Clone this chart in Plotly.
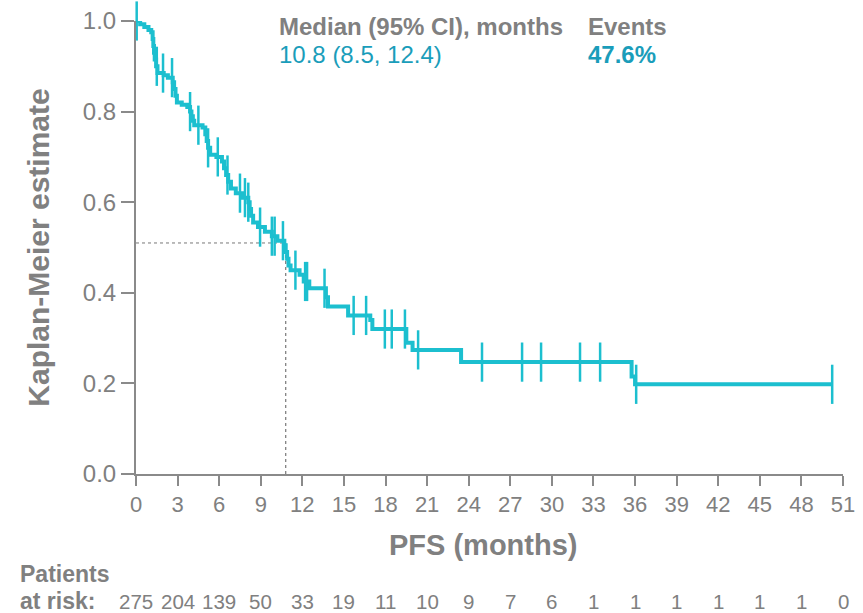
import numpy as np
import plotly.graph_objects as go

# ---- data ----
step_times = [0, 0.3, 0.6, 0.9, 1.1, 1.2, 1.25, 1.3, 1.35, 1.45, 1.55, 2.0, 2.3, 2.65, 2.75, 2.85, 2.95,
              3.3, 3.7, 3.9, 4.0, 4.1, 4.2, 4.8, 5.0, 5.1, 5.2, 5.35, 5.8, 6.2, 6.35, 6.5, 6.65, 6.85,
              7.2, 7.7, 8.1, 8.2, 8.3, 8.45, 8.8, 9.3, 9.8, 10.2, 10.7, 10.8, 10.9, 11.0, 11.15, 11.8,
              12.1, 12.5, 13.7, 13.85, 15.3, 16.9, 17.05, 19.5, 19.95, 23.45, 35.75, 36.0, 50.22]
step_surv = [1.0, 0.993, 0.987, 0.98, 0.975, 0.96, 0.945, 0.93, 0.915, 0.90, 0.885, 0.88, 0.875, 0.865,
             0.85, 0.835, 0.82, 0.815, 0.81, 0.80, 0.79, 0.78, 0.77, 0.765, 0.75, 0.735, 0.72, 0.705,
             0.70, 0.69, 0.675, 0.66, 0.645, 0.63, 0.62, 0.61, 0.60, 0.585, 0.57, 0.555, 0.545, 0.535,
             0.525, 0.515, 0.505, 0.49, 0.475, 0.46, 0.45, 0.44, 0.425, 0.41, 0.39, 0.37, 0.35, 0.34,
             0.32, 0.29, 0.274, 0.247, 0.215, 0.198, 0.198]
censor_times = [0.05, 1.5, 1.95, 2.6, 3.9, 4.5, 5.2, 5.9, 6.6, 7.5, 7.86, 8.1, 8.95, 9.8, 10.0, 10.6,
                11.5, 12.2, 12.34, 13.6, 15.7, 16.6, 17.95, 18.45, 19.4, 20.35, 24.96, 27.85, 29.22,
                32.03, 33.48, 36.08, 50.22]
median_time = 10.8
median_surv = 0.51
x_ticks = list(range(0, 52, 3))
at_risk = [275, 204, 139, 50, 33, 19, 11, 10, 9, 7, 6, 1, 1, 1, 1, 1, 1, 0]
median_text = "10.8 (8.5, 12.4)"
events_text = "47.6%"

# ---- styling ----
TEAL = "#1CBFCF"
TEAL_TXT = "#1A9DBA"
GREY = "#808080"
AXIS = "#8a8a8a"
FONT = "Liberation Sans, Arial, sans-serif"

st = np.array(step_times)
ss = np.array(step_surv)
cidx = np.searchsorted(st, np.array(censor_times), side="right") - 1
censor_surv = ss[cidx]

fig = go.Figure()
fig.add_trace(go.Scatter(x=step_times, y=step_surv, mode="lines", line=dict(color=TEAL, width=4, shape="hv"),
                         showlegend=False, hoverinfo="skip"))
fig.add_trace(go.Scatter(x=censor_times, y=censor_surv, mode="markers",
                         marker=dict(symbol="line-ns", size=28, line=dict(color=TEAL, width=2.5)),
                         cliponaxis=False, showlegend=False, hoverinfo="skip"))

# median reference lines
fig.add_shape(type="line", xref="x", yref="y", x0=0, x1=median_time, y0=median_surv, y1=median_surv,
              line=dict(color="#777777", width=1, dash="dot"), layer="below")
fig.add_shape(type="line", xref="x", yref="y", x0=median_time, x1=median_time, y0=0, y1=median_surv,
              line=dict(color="#777777", width=1.2, dash="dot"), layer="below")

# header annotations
HDR = 24
fig.add_annotation(text="<b>Median (95% CI), months</b>", x=0.1994, y=0.987, xref="paper", yref="paper",
                   xanchor="left", yanchor="middle", showarrow=False, font=dict(size=HDR, color=GREY, family=FONT))
fig.add_annotation(text=median_text, x=0.1994, y=0.925, xref="paper", yref="paper",
                   xanchor="left", yanchor="middle", showarrow=False, font=dict(size=HDR, color=TEAL_TXT, family=FONT))
fig.add_annotation(text="<b>Events</b>", x=0.6365, y=0.987, xref="paper", yref="paper",
                   xanchor="left", yanchor="middle", showarrow=False, font=dict(size=HDR, color=GREY, family=FONT))
fig.add_annotation(text="<b>" + events_text + "</b>", x=0.6365, y=0.925, xref="paper", yref="paper",
                   xanchor="left", yanchor="middle", showarrow=False, font=dict(size=HDR, color=TEAL_TXT, family=FONT))

# x axis title (slightly left of the axis centre, as in the reference)
fig.add_annotation(text="<b>PFS (months)</b>", x=0.491, y=-0.156, xref="paper", yref="paper",
                   xanchor="center", yanchor="middle", showarrow=False, font=dict(size=29, color=GREY, family=FONT))

# patients at risk
fig.add_annotation(text="<b>Patients</b>", x=-0.167, y=-0.221, xref="paper", yref="paper",
                   xanchor="left", yanchor="middle", showarrow=False, font=dict(size=23, color=GREY, family=FONT))
fig.add_annotation(text="<b>at risk:</b>", x=-0.167, y=-0.281, xref="paper", yref="paper",
                   xanchor="left", yanchor="middle", showarrow=False, font=dict(size=23, color=GREY, family=FONT))
for t, n in zip(x_ticks, at_risk):
    fig.add_annotation(text=str(n), x=t, y=-0.281, xref="x", yref="paper", xanchor="center", yanchor="middle",
                       showarrow=False, font=dict(size=20.5, color=GREY, family=FONT))

fig.update_layout(
    width=863, height=613,
    margin=dict(l=136, r=20, t=21, b=139, autoexpand=False),
    plot_bgcolor="white", paper_bgcolor="white",
    font=dict(family=FONT, color=GREY),
    xaxis=dict(range=[0, 51], tickvals=x_ticks, showgrid=False, zeroline=False, showline=True, automargin=False,
               linecolor=AXIS, linewidth=2, ticks="outside", ticklen=10, tickwidth=2, tickcolor=AXIS,
               tickfont=dict(size=22, color=GREY, family=FONT)),
    yaxis=dict(range=[0, 1.0], tickvals=[0, 0.2, 0.4, 0.6, 0.8, 1.0], tickformat=".1f", showgrid=False,
               automargin=False,
               zeroline=False, showline=True, linecolor=AXIS, linewidth=2, ticks="outside", ticklen=13,
               tickwidth=2, tickcolor=AXIS, tickfont=dict(size=24, color=GREY, family=FONT),
               title=dict(text="<b>Kaplan-Meier estimate</b>", font=dict(size=30, color=GREY, family=FONT),
                          standoff=24)),
)

fig.write_html("out.html", config={"displayModeBar": False}, post_script="document.body.style.margin='0';")
